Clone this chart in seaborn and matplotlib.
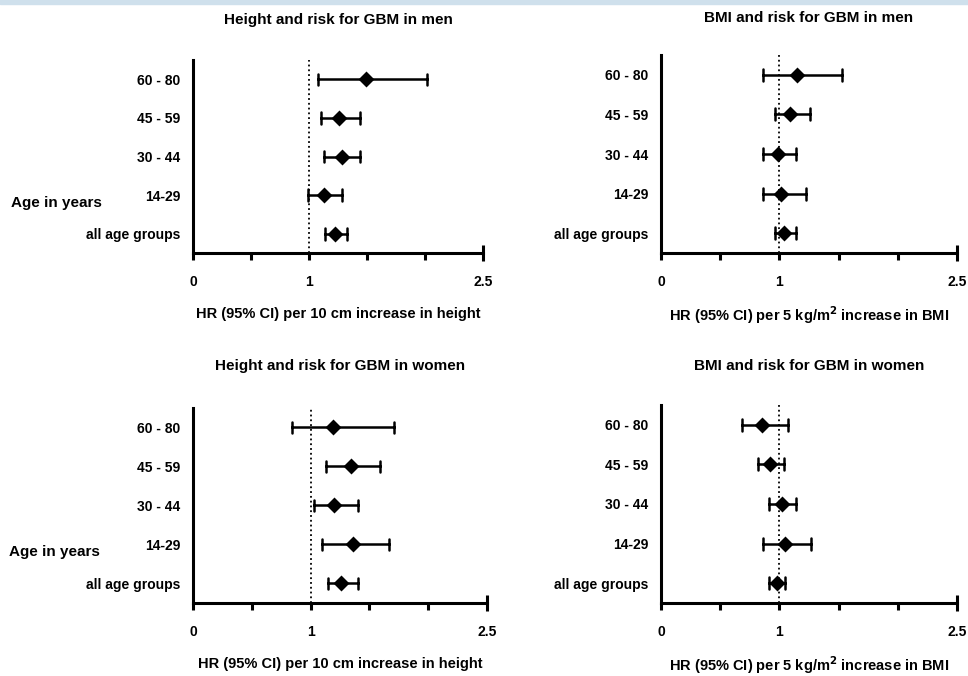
import numpy as np
import pandas as pd
import matplotlib
matplotlib.use("Agg")
import matplotlib.pyplot as plt
import seaborn as sns

sns.set_style("ticks")
plt.rcParams['font.family'] = ['Liberation Sans', 'DejaVu Sans']
plt.rcParams['font.weight'] = 'bold'
plt.rcParams['mathtext.default'] = 'bf'
for k in ['text.color', 'axes.labelcolor', 'xtick.color', 'ytick.color']:
    plt.rcParams[k] = 'black'

groups = ['60 - 80', '45 - 59', '30 - 44', '14-29', 'all age groups']

# hazard ratios and 95% CI
height_men_hr = [1.49, 1.26, 1.28, 1.13, 1.22]
height_men_lo = [1.08, 1.10, 1.13, 0.99, 1.14]
height_men_hi = [2.02, 1.44, 1.44, 1.28, 1.33]

bmi_men_hr = [1.15, 1.09, 0.99, 1.01, 1.04]
bmi_men_lo = [0.86, 0.96, 0.86, 0.86, 0.96]
bmi_men_hi = [1.53, 1.26, 1.14, 1.22, 1.14]

height_women_hr = [1.19, 1.34, 1.20, 1.36, 1.26]
height_women_lo = [0.84, 1.13, 1.03, 1.10, 1.15]
height_women_hi = [1.71, 1.59, 1.40, 1.67, 1.40]

bmi_women_hr = [0.85, 0.92, 1.02, 1.05, 0.98]
bmi_women_lo = [0.68, 0.82, 0.91, 0.86, 0.91]
bmi_women_hi = [1.07, 1.04, 1.14, 1.27, 1.05]

panels = [
    ("Height and risk for GBM in men", "HR (95% CI) per 10 cm increase in height",
     height_men_lo, height_men_hr, height_men_hi),
    ("BMI and risk for GBM in men", "HR (95% CI) per 5 kg/m$^2$ increase in BMI",
     bmi_men_lo, bmi_men_hr, bmi_men_hi),
    ("Height and risk for GBM in women", "HR (95% CI) per 10 cm increase in height",
     height_women_lo, height_women_hr, height_women_hi),
    ("BMI and risk for GBM in women", "HR (95% CI) per 5 kg/m$^2$ increase in BMI",
     bmi_women_lo, bmi_women_hr, bmi_women_hi),
]

# axes boxes in figure fraction
boxes = [
    [0.1994, 0.6257, 0.2996, 0.2855],
    [0.6829, 0.6257, 0.3058, 0.2929],
    [0.1994, 0.1080, 0.3037, 0.2885],
    [0.6829, 0.1080, 0.3058, 0.2929],
]
title_pads = [26, 24, 27, 25]
label_pads = [13, 11, 13, 11]

fig = plt.figure(figsize=(9.68, 6.76), dpi=100)
fig.patches.append(plt.Rectangle((0, 0.994), 1, 0.006, transform=fig.transFigure,
                                 color='#cfe0ec', zorder=0))

for i, (title, xlab, lo, hr, hi) in enumerate(panels):
    ax = fig.add_axes(boxes[i])
    rows = []
    for g, a, b, c in zip(groups, lo, hr, hi):
        rows += [(g, a), (g, b), (g, c)]
    df = pd.DataFrame(rows, columns=['group', 'hr'])

    ax.axvline(1, color='black', ls=':', lw=1.3, zorder=1)
    sns.pointplot(data=df, x='hr', y='group', order=groups, orient='h',
                  estimator='median', errorbar=lambda v: (v.min(), v.max()),
                  color='black', markers='D', markersize=6.5, linestyle='none',
                  capsize=0.3, err_kws={'linewidth': 1.8}, ax=ax)

    ax.set_xlim(0, 2.5)
    ax.set_ylim(4.5, -0.5)
    ax.set_xticks([0, 1, 2.5])
    ax.set_xticklabels(['0', '1', '2.5'])
    ax.set_xticks([0.5, 1.5, 2.0], minor=True)
    ax.tick_params(axis='x', which='both', direction='out', length=5, width=2.2,
                   color='black', labelsize=10, pad=11)
    ax.tick_params(axis='y', length=0, labelsize=10, pad=9)
    ax.xaxis.get_major_ticks()[-1].tick1line.set_marker('|')
    ax.xaxis.get_major_ticks()[-1].tick1line.set_markersize(12)
    for t in ax.get_xticklabels() + ax.get_yticklabels():
        t.set_fontweight('bold')
    sns.despine(ax=ax)
    for s in ['left', 'bottom']:
        ax.spines[s].set_linewidth(2.2)
        ax.spines[s].set_color('black')

    ax.set_title(title, fontsize=11, fontweight='bold', pad=title_pads[i])
    ax.set_xlabel(xlab, fontsize=10.5, fontweight='bold', labelpad=label_pads[i])
    if i % 2 == 0:
        ax.set_ylabel('Age in years', fontsize=11, fontweight='bold', rotation=0,
                      ha='center', va='center')
        ax.yaxis.set_label_coords(-0.47, 0.26)
    else:
        ax.set_ylabel('')

fig.savefig('out.png', dpi=100)
